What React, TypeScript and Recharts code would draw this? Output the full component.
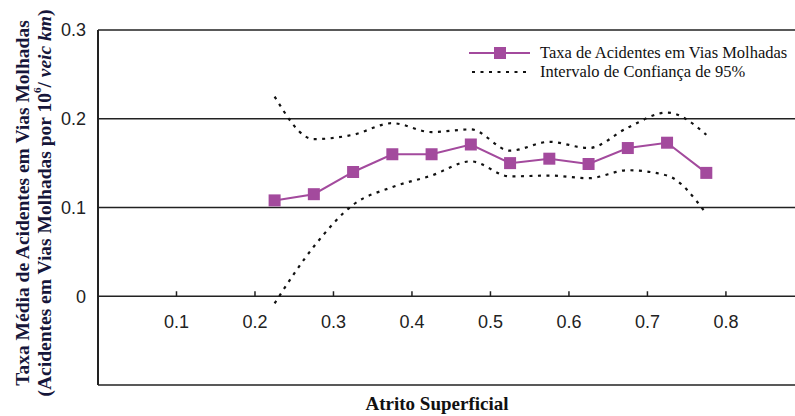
import React from 'react';
import { LineChart, Line, XAxis, YAxis, ReferenceLine } from 'recharts';

const friction = [0.225, 0.275, 0.325, 0.375, 0.425, 0.475, 0.525, 0.575, 0.625, 0.675, 0.725, 0.775];
const wetRate = [0.108, 0.115, 0.14, 0.16, 0.16, 0.171, 0.15, 0.155, 0.149, 0.167, 0.173, 0.139];
const upperCI = [0.225, 0.177, 0.182, 0.195, 0.185, 0.188, 0.164, 0.174, 0.167, 0.19, 0.207, 0.182];
const lowerCI = [-0.008, 0.056, 0.103, 0.123, 0.136, 0.152, 0.135, 0.136, 0.133, 0.142, 0.136, 0.093];

const xTicks = [0.1, 0.2, 0.3, 0.4, 0.5, 0.6, 0.7, 0.8];
const yTicks = [0, 0.1, 0.2, 0.3];
const hLines = [-0.1, 0, 0.1, 0.2, 0.3];

const W = 795;
const H = 416;
const PLOT_TOP = 30;
const PLOT_BOTTOM_PAD = 31;
const Y_MIN = -0.1;
const Y_MAX = 0.3;
const PLOT_H = H - PLOT_TOP - PLOT_BOTTOM_PAD;
// the x axis sits on the zero line, not at the bottom of the frame
const ZERO_Y = PLOT_TOP + (PLOT_H * Y_MAX) / (Y_MAX - Y_MIN);

const PURPLE = '#a34a9d';
const SERIF = '"Liberation Serif", "Times New Roman", serif';
const SANS = '"Liberation Sans", Arial, sans-serif';

const data = friction.map((x, i) => ({
  x,
  rate: wetRate[i],
  upper: upperCI[i],
  lower: lowerCI[i],
}));

const XTick = (props: any) => {
  const { x, payload } = props;
  return (
    <g>
      <line x1={x} x2={x} y1={ZERO_Y - 5} y2={ZERO_Y} stroke="#222" strokeWidth={1.5} />
      <text x={x} y={ZERO_Y + 32} textAnchor="middle" fontFamily={SANS} fontSize={18} fill="#222">
        {payload.value.toFixed(1)}
      </text>
    </g>
  );
};

const SquareDot = (props: any) => {
  const { cx, cy } = props;
  if (cx == null || cy == null) return null;
  return <rect x={cx - 6} y={cy - 6} width={12} height={12} fill={PURPLE} />;
};

const YTitle = () => (
  <g fontFamily={SERIF} fontWeight="bold" fontSize={19.5} fill="#16163a">
    <text transform="translate(22,203) rotate(-90)" textAnchor="middle" dominantBaseline="central">
      Taxa Média de Acidentes em Vias Molhadas
    </text>
    <text transform="translate(44,203) rotate(-90)" textAnchor="middle" dominantBaseline="central">
      (Acidentes em Vias Molhadas por 10
      <tspan fontSize={11} dy={-7}>6</tspan>
      <tspan dy={7}>/ </tspan>
      <tspan fontStyle="italic">veic km</tspan>)
    </text>
  </g>
);

// legend drawn in the top-right corner of the plot
const LegendBox = () => (
  <g transform="translate(464,39)">
    <line x1={5} x2={66} y1={14} y2={14} stroke={PURPLE} strokeWidth={2} />
    <rect x={30} y={8} width={12} height={12} fill={PURPLE} />
    <text x={76} y={19} fontFamily={SERIF} fontSize={16.5} fill="#111">
      Taxa de Acidentes em Vias Molhadas
    </text>
    <line x1={8} x2={66} y1={33} y2={33} stroke="#111" strokeWidth={2} strokeDasharray="3 5.5" />
    <text x={76} y={38} fontFamily={SERIF} fontSize={16.5} fill="#111">
      Intervalo de Confiança de 95%
    </text>
  </g>
);

export default function App() {
  return (
    <div style={{ width: W, height: H, background: '#fff' }}>
      <style>{'body{margin:0;overflow:hidden}'}</style>
      <LineChart width={W} height={H} data={data} margin={{ top: PLOT_TOP, right: 0, bottom: 0, left: 0 }}>
        {hLines.map((v) => (
          <ReferenceLine key={v} y={v} stroke="#222" strokeWidth={1.5} />
        ))}
        <XAxis
          dataKey="x"
          type="number"
          domain={[0, 0.888]}
          ticks={xTicks}
          axisLine={false}
          tickLine={false}
          tick={<XTick />}
          height={PLOT_BOTTOM_PAD}
          allowDataOverflow
        />
        <YAxis
          type="number"
          domain={[Y_MIN, Y_MAX]}
          ticks={yTicks}
          width={98}
          axisLine={{ stroke: '#222', strokeWidth: 2 }}
          tickLine={false}
          tickMargin={6}
          tick={{ fontFamily: SANS, fontSize: 18, fill: '#222' }}
          tickFormatter={(v: number) => (v === 0 ? '0' : v.toFixed(1))}
          allowDataOverflow
        />
        <Line
          dataKey="upper"
          type="monotone"
          stroke="#111"
          strokeWidth={2.2}
          strokeDasharray="3 5.5"
          dot={false}
          isAnimationActive={false}
        />
        <Line
          dataKey="lower"
          type="monotone"
          stroke="#111"
          strokeWidth={2.2}
          strokeDasharray="3 5.5"
          dot={false}
          isAnimationActive={false}
        />
        <Line
          dataKey="rate"
          type="linear"
          stroke={PURPLE}
          strokeWidth={2}
          dot={<SquareDot />}
          isAnimationActive={false}
        />
        <LegendBox />
        <YTitle />
        <text x={437} y={410} textAnchor="middle" fontFamily={SERIF} fontWeight="bold" fontSize={19} fill="#111">
          Atrito Superficial
        </text>
      </LineChart>
    </div>
  );
}
